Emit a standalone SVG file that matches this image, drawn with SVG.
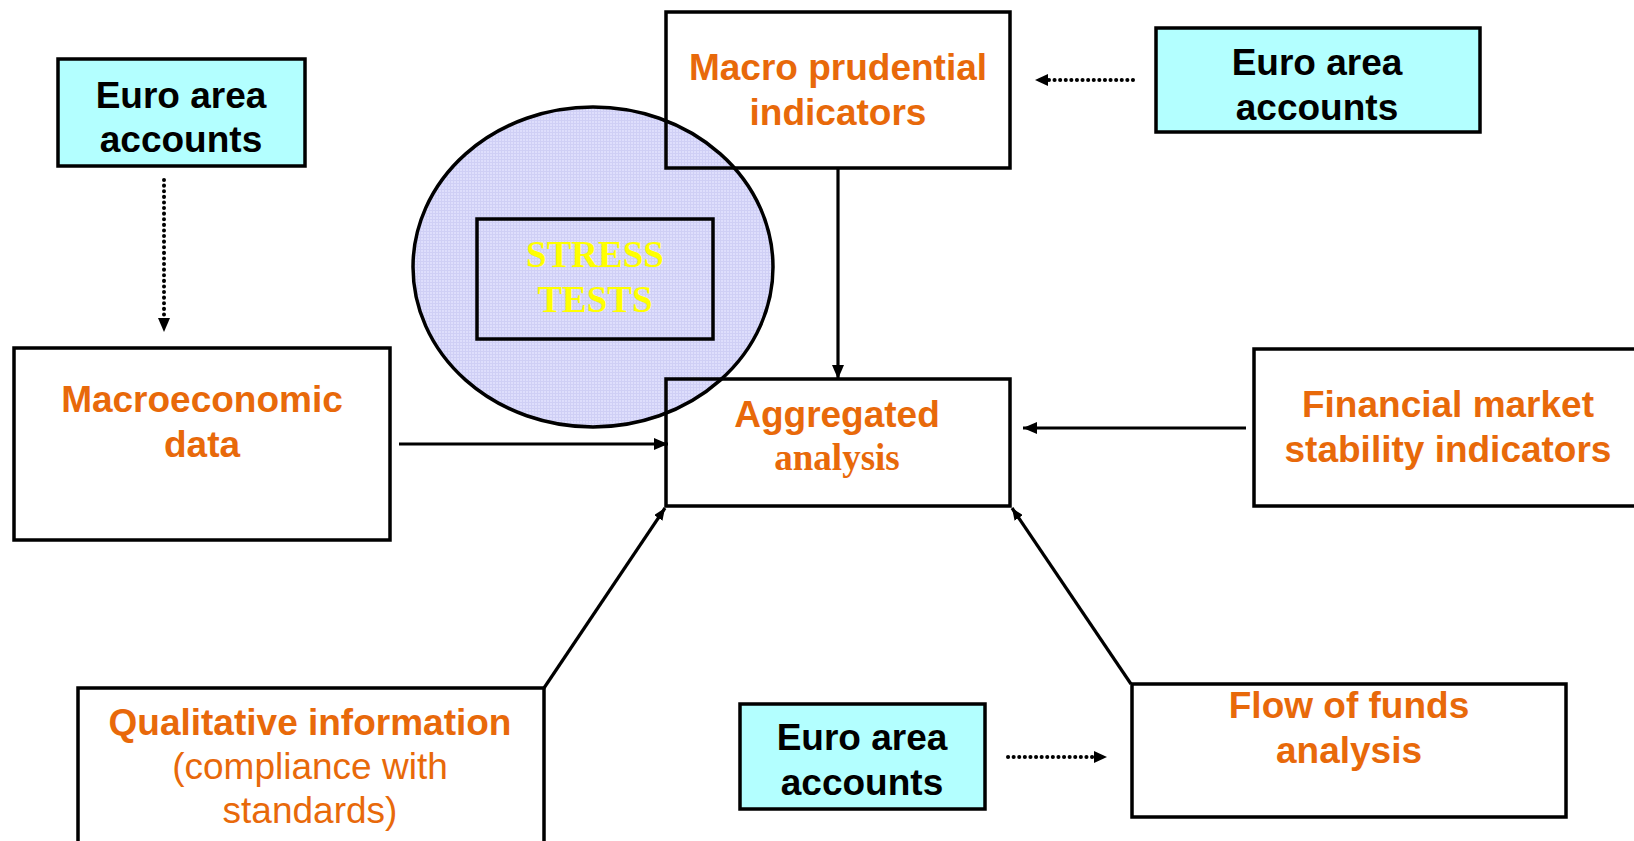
<svg xmlns="http://www.w3.org/2000/svg" width="1634" height="841" viewBox="0 0 1634 841">
<style>
.box{fill:none;stroke:#000;stroke-width:3.5}
.acc{fill:#b3ffff;stroke:#000;stroke-width:3.5}
.t{font-family:"Liberation Sans",Arial,sans-serif;font-weight:bold;font-size:37px;text-anchor:middle}
.or{fill:#e8690a}
.bk{fill:#000}
.reg{font-weight:normal}
.serif{font-family:"Liberation Serif","Times New Roman",serif;font-weight:bold}
.ln{stroke:#000;stroke-width:3.2;fill:none}
.dot{stroke:#000;stroke-width:4;fill:none;stroke-dasharray:0.1 5.5;stroke-linecap:round}
</style>
<defs>
<marker id="ah" viewBox="0 0 12 10" refX="12" refY="5" markerWidth="12" markerHeight="10" markerUnits="userSpaceOnUse" orient="auto">
<path d="M0,0 L12,5 L0,10 Z" fill="#000"/>
</marker>
<marker id="ahs" viewBox="0 0 14 12" refX="14" refY="6" markerWidth="14" markerHeight="12" markerUnits="userSpaceOnUse" orient="auto">
<path d="M0,0 L14,6 L0,12 Z" fill="#000"/>
</marker>
<pattern id="grid" width="3" height="3" patternUnits="userSpaceOnUse">
<rect width="3" height="3" fill="#dedefc"/>
<path d="M0,0.5 H3 M0.5,0 V3" stroke="#cfcff5" stroke-width="1"/>
</pattern>
</defs>

<g id="stress-ellipse">
<ellipse cx="593" cy="267" rx="180" ry="160" fill="url(#grid)" stroke="#000" stroke-width="3.5"/>
</g>

<g id="stress-tests">
<rect x="477" y="219" width="236" height="120" class="box"/>
<text class="t serif" x="595" y="267" fill="#ffff00">STRESS</text>
<text class="t serif" x="595" y="312" fill="#ffff00">TESTS</text>
</g>

<g id="euro-left">
<rect x="58" y="59" width="247" height="107" class="acc"/>
<text class="t bk" x="181" y="108">Euro area</text>
<text class="t bk" x="181" y="152">accounts</text>
</g>

<g id="macroeconomic">
<rect x="14" y="348" width="376" height="192" class="box"/>
<text class="t or" x="202" y="412">Macroeconomic</text>
<text class="t or" x="202" y="457">data</text>
</g>

<g id="macro-prudential">
<rect x="666" y="12" width="344" height="156" class="box"/>
<text class="t or" x="838" y="80">Macro prudential</text>
<text class="t or" x="838" y="125">indicators</text>
</g>

<g id="euro-right">
<rect x="1156" y="28" width="324" height="104" class="acc"/>
<text class="t bk" x="1317" y="75">Euro area</text>
<text class="t bk" x="1317" y="120">accounts</text>
</g>

<g id="aggregated">
<rect x="666" y="379" width="344" height="127" class="box"/>
<text class="t or" x="837" y="427">Aggregated</text>
<text class="t or serif" x="837" y="470">analysis</text>
</g>

<g id="financial">
<rect x="1254" y="349" width="390" height="157" class="box"/>
<text class="t or" x="1448" y="417">Financial market</text>
<text class="t or" x="1448" y="462">stability indicators</text>
</g>

<g id="qualitative">
<rect x="78" y="688" width="466" height="170" class="box"/>
<text class="t or" x="310" y="735">Qualitative information</text>
<text class="t or reg" x="310" y="779">(compliance with</text>
<text class="t or reg" x="310" y="823">standards)</text>
</g>

<g id="euro-bottom">
<rect x="740" y="704" width="245" height="105" class="acc"/>
<text class="t bk" x="862" y="750">Euro area</text>
<text class="t bk" x="862" y="795">accounts</text>
</g>

<g id="flow-of-funds">
<rect x="1132" y="684" width="434" height="133" class="box"/>
<text class="t or" x="1349" y="718">Flow of funds</text>
<text class="t or" x="1349" y="763">analysis</text>
</g>

<g id="connectors">
<line class="dot" x1="164" y1="180" x2="164" y2="318"/>
<path d="M158,318 L170,318 L164,332 Z" fill="#000"/>
<line class="dot" x1="1133" y1="80" x2="1048" y2="80"/>
<path d="M1048,74 L1048,86 L1035,80 Z" fill="#000"/>
<line class="dot" x1="1008" y1="757" x2="1094" y2="757"/>
<path d="M1094,751 L1094,763 L1107,757 Z" fill="#000"/>
<line class="ln" x1="838" y1="168" x2="838" y2="379" marker-end="url(#ahs)"/>
<line class="ln" x1="399" y1="444" x2="668" y2="444" marker-end="url(#ahs)"/>
<line class="ln" x1="1246" y1="428" x2="1023" y2="428" marker-end="url(#ahs)"/>
<line class="ln" x1="544" y1="688" x2="665" y2="508" marker-end="url(#ah)"/>
<line class="ln" x1="1131" y1="684" x2="1012" y2="508" marker-end="url(#ah)"/>
</g>
</svg>
